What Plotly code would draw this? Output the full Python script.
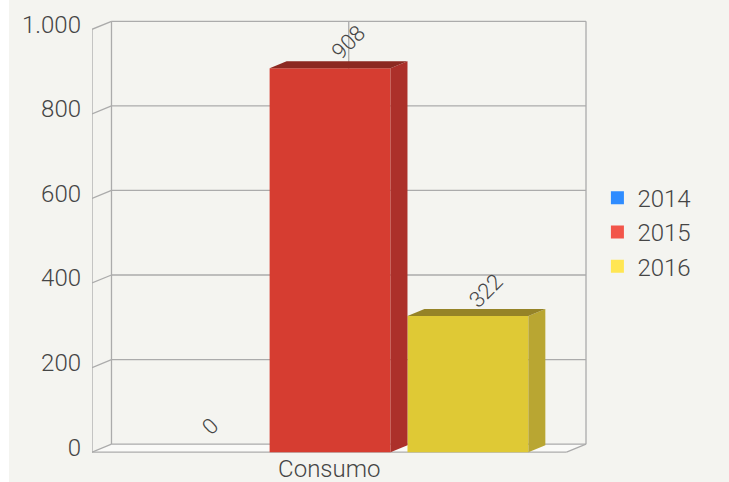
import plotly.graph_objects as go

# ---- data ----
category = "Consumo"
years = ["2014", "2015", "2016"]
consumo = [0, 908, 322]
y_ticks = [0, 200, 400, 600, 800, 1000]

# colours: legend swatch, front face, side face, top face
legend_colors = ["#2f8cff", "#f2554a", "#ffe653"]
front_colors = ["#2b80e6", "#d63d31", "#dfc935"]
side_colors = ["#2266b8", "#ac302a", "#b9a632"]
top_colors = ["#1c5597", "#8c2921", "#958327"]

# ---- geometry (axis units) ----
slot = 138 / 475          # width of one series slot inside the category
bar_w = 121 / 475         # width of each column
px_x = 1 / 475            # x-axis units per pixel
px_y = 1000 / 423         # y-axis units per pixel
bar_dx, bar_dy = 17 * px_x, 7 * px_y        # column depth
wall_dx, wall_dy = 19.5 * px_x, 8 * px_y    # frame depth
x_lo, x_hi = -0.5, 0.5
y_top = 1000

fig = go.Figure()

# columns: front face as bars, side/top faces as filled polygons
for i, (yr, v) in enumerate(zip(years, consumo)):
    cx = (i - 1) * slot + 0.8 * px_x
    xl, xr = cx - bar_w / 2, cx + bar_w / 2
    fig.add_trace(go.Bar(
        x=[cx], y=[v], width=[bar_w], marker=dict(color=front_colors[i], line=dict(width=0)),
        showlegend=False, hoverinfo="skip"))
    if v > 0:
        fig.add_trace(go.Scatter(
            x=[xr, xr + bar_dx, xr + bar_dx, xr, xr],
            y=[0, bar_dy, v + bar_dy, v, 0],
            fill="toself", fillcolor=side_colors[i], line=dict(width=0),
            mode="lines", showlegend=False, hoverinfo="skip"))
        fig.add_trace(go.Scatter(
            x=[xl, xl + bar_dx, xr + bar_dx, xr, xl],
            y=[v, v + bar_dy, v + bar_dy, v, v],
            fill="toself", fillcolor=top_colors[i], line=dict(width=0),
            mode="lines", showlegend=False, hoverinfo="skip"))
    # rotated value label
    fig.add_annotation(
        x=cx, y=v, text=f"{v:,}".replace(",", "."), showarrow=False,
        textangle=-45, xshift=18, yshift=26,
        font=dict(family="Roboto", size=22, color="#454545", weight=300))

# legend entries
for yr, c in zip(years, legend_colors):
    fig.add_trace(go.Scatter(
        x=[None], y=[None], mode="markers", name=yr,
        marker=dict(symbol="square", size=13, color=c, line=dict(width=0))))

# ---- 3D frame ----
grid = dict(color="#ababab", width=1.3)
shapes = []
# page background with white left strip
shapes.append(dict(type="rect", xref="paper", yref="paper",
                   x0=(9 - 92) / 496, x1=(729 - 92) / 496 + 0.01,
                   y0=(453 - 483) / 433, y1=1 + 21 / 433,
                   fillcolor="#f4f4f0", line=dict(width=0), layer="below"))
# floor
shapes.append(dict(type="path", layer="below",
                   path=f"M {x_lo},0 L {x_lo + wall_dx},{wall_dy} L {x_hi + wall_dx},{wall_dy} L {x_hi},0 Z",
                   fillcolor="#fafaf8", line=dict(width=0)))
for t in y_ticks:
    # back-wall grid line
    shapes.append(dict(type="line", layer="below", x0=x_lo + wall_dx, x1=x_hi + wall_dx,
                       y0=t + wall_dy, y1=t + wall_dy, line=grid))
    # side-wall slant
    shapes.append(dict(type="line", layer="below", x0=x_lo, x1=x_lo + wall_dx,
                       y0=t, y1=t + wall_dy, line=grid))
# vertical edges
shapes.append(dict(type="line", layer="below", x0=x_lo, x1=x_lo, y0=0, y1=y_top, line=grid))
shapes.append(dict(type="line", layer="below", x0=x_lo + wall_dx, x1=x_lo + wall_dx,
                   y0=wall_dy, y1=y_top + wall_dy, line=grid))
shapes.append(dict(type="line", layer="below", x0=x_hi + wall_dx, x1=x_hi + wall_dx,
                   y0=wall_dy, y1=y_top + wall_dy, line=grid))
# category line on back wall
shapes.append(dict(type="line", layer="below", x0=wall_dx, x1=wall_dx,
                   y0=wall_dy, y1=y_top + wall_dy, line=grid))
# floor front edge and right slant
shapes.append(dict(type="line", layer="below", x0=x_lo, x1=x_hi, y0=0, y1=0, line=grid))
shapes.append(dict(type="line", layer="below", x0=x_hi, x1=x_hi + wall_dx,
                   y0=0, y1=wall_dy, line=grid))

font = dict(family="Roboto", size=24, color="#454545", weight=300)

fig.update_layout(
    width=729, height=482,
    margin=dict(l=92, r=141, t=20, b=29, autoexpand=False),
    paper_bgcolor="white", plot_bgcolor="rgba(0,0,0,0)",
    template="none",
    separators=",.",
    barmode="overlay",
    shapes=shapes,
    font=font,
    xaxis=dict(range=[x_lo, x_hi + 21.5 * px_x], tickvals=[0], ticktext=[category],
               showgrid=False, zeroline=False, showline=False, ticks="",
               tickfont=font, automargin=False, fixedrange=True, ticklabelstandoff=-1),
    yaxis=dict(range=[-2, 1022], tickvals=y_ticks, tickformat=",d",
               showgrid=False, zeroline=False, showline=False, ticks="",
               tickfont=font, automargin=False, ticklabelshift=-5,
               ticklabelstandoff=10, fixedrange=True),
    legend=dict(x=1.019, y=0.51, yanchor="middle", xanchor="left",
                font=font, bgcolor="rgba(0,0,0,0)", itemwidth=30,
                tracegroupgap=0),
    showlegend=True,
)

fig.write_html("out.html")
